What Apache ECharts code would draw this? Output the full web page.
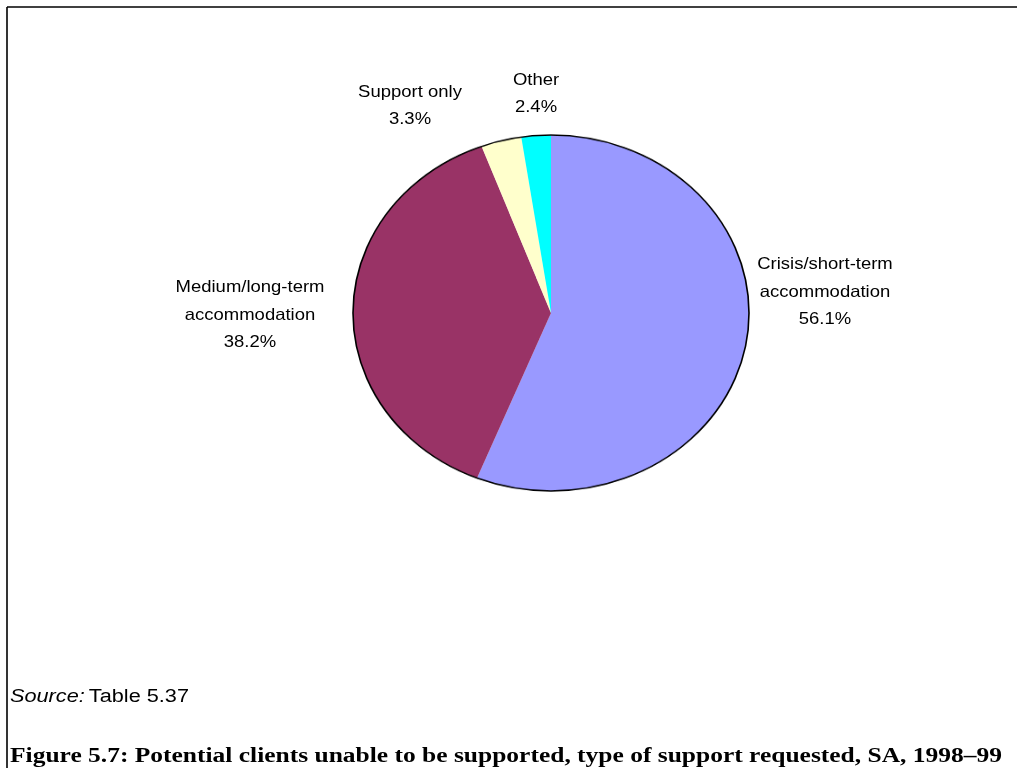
<!DOCTYPE html>
<html>
<head>
<meta charset="utf-8">
<script src="https://cdn.jsdelivr.net/npm/echarts@6/dist/echarts.min.js"></script>
<style>
  html, body { margin: 0; padding: 0; background: #fff; }
  #wrap { position: relative; width: 1017px; height: 768px; overflow: hidden; }
  #pie { position: absolute; left: 0; top: 0; width: 1017px; height: 768px;
         transform-origin: 551px 313px; transform: scaleY(0.899); }
  #txt { position: absolute; left: 0; top: 0; width: 1017px; height: 768px; }
</style>
</head>
<body>
<div id="wrap">
  <div id="pie"></div>
  <div id="txt"></div>
</div>
<script>
// Data
const categories = ['Crisis/short-term\naccommodation', 'Medium/long-term\naccommodation', 'Support only', 'Other'];
const values = [56.1, 38.2, 3.3, 2.4];
const colors = ['#9999FF', '#993366', '#FFFFCC', '#00FFFF'];
const titleText = 'Figure 5.7: Potential clients unable to be supported, type of support requested, SA, 1998–99';
const sourceLabel = 'Source:';
const sourceText = 'Table 5.37';

// Pie (drawn circular, then squashed into an ellipse by CSS)
const pieChart = echarts.init(document.getElementById('pie'), null, { renderer: 'canvas' });
pieChart.setOption({
  animation: false,
  series: [
    {
      type: 'pie',
      center: [551, 313],
      radius: [0, 198],
      startAngle: 90,
      clockwise: true,
      silent: true,
      label: { show: false },
      labelLine: { show: false },
      emphasis: { disabled: true },
      itemStyle: { borderWidth: 0 },
      data: categories.map((c, i) => ({ name: c, value: values[i], itemStyle: { color: colors[i] } }))
    },
    {
      type: 'pie',
      center: [551, 313],
      radius: [0, 198],
      silent: true,
      label: { show: false },
      labelLine: { show: false },
      emphasis: { disabled: true },
      itemStyle: { color: 'rgba(0,0,0,0)', borderColor: '#000', borderWidth: 1.6 },
      data: [{ name: 'outline', value: 1 }]
    }
  ]
});

// helper to measure text width for horizontal stretching
const mctx = document.createElement('canvas').getContext('2d');
function textWidth(str, font) { mctx.font = font; return mctx.measureText(str).width; }

const sansFam = '"Liberation Sans", Arial, sans-serif';
const serifFam = '"Liberation Serif", "Times New Roman", serif';

// Labels, frame, source and caption
const labelPos = [[825, 292], [250, 315], [410, 106], [536, 94]];
const labelFont = { fontFamily: sansFam, fontSize: 16.5, fill: '#000', lineHeight: 27.5 };
const txtChart = echarts.init(document.getElementById('txt'), null, { renderer: 'canvas' });

const srcFont = 18;
const srcW = textWidth(sourceLabel + ' ', 'italic ' + srcFont + 'px ' + sansFam) + textWidth(sourceText, srcFont + 'px ' + sansFam);
const titleFont = 20.5;
const titleW = textWidth(titleText, 'bold ' + titleFont + 'px ' + serifFam);

const graphics = [
  { type: 'line', shape: { x1: 7, y1: 7, x2: 1017, y2: 7 }, style: { stroke: '#000', lineWidth: 1.6 } },
  { type: 'line', shape: { x1: 7, y1: 7, x2: 7, y2: 768 }, style: { stroke: '#000', lineWidth: 1.6 } },
  {
    type: 'text', x: 10, y: 697, scaleX: 181 / srcW,
    style: {
      align: 'left', verticalAlign: 'middle',
      rich: {
        i: { fontFamily: sansFam, fontStyle: 'italic', fontSize: srcFont, fill: '#000' },
        n: { fontFamily: sansFam, fontSize: srcFont, fill: '#000' }
      },
      text: '{i|' + sourceLabel + '} {n|' + sourceText + '}'
    }
  },
  {
    type: 'text', x: 10, y: 757, scaleX: 992 / titleW,
    style: { text: titleText, align: 'left', verticalAlign: 'middle', fontFamily: serifFam, fontWeight: 'bold', fontSize: titleFont, fill: '#000' }
  }
];
categories.forEach((c, i) => {
  graphics.push({
    type: 'text',
    x: labelPos[i][0], y: labelPos[i][1], scaleX: 1.12,
    style: Object.assign({ text: c + '\n' + values[i].toFixed(1) + '%', align: 'center', verticalAlign: 'middle' }, labelFont)
  });
});
txtChart.setOption({ animation: false, graphic: graphics });
</script>
</body>
</html>
